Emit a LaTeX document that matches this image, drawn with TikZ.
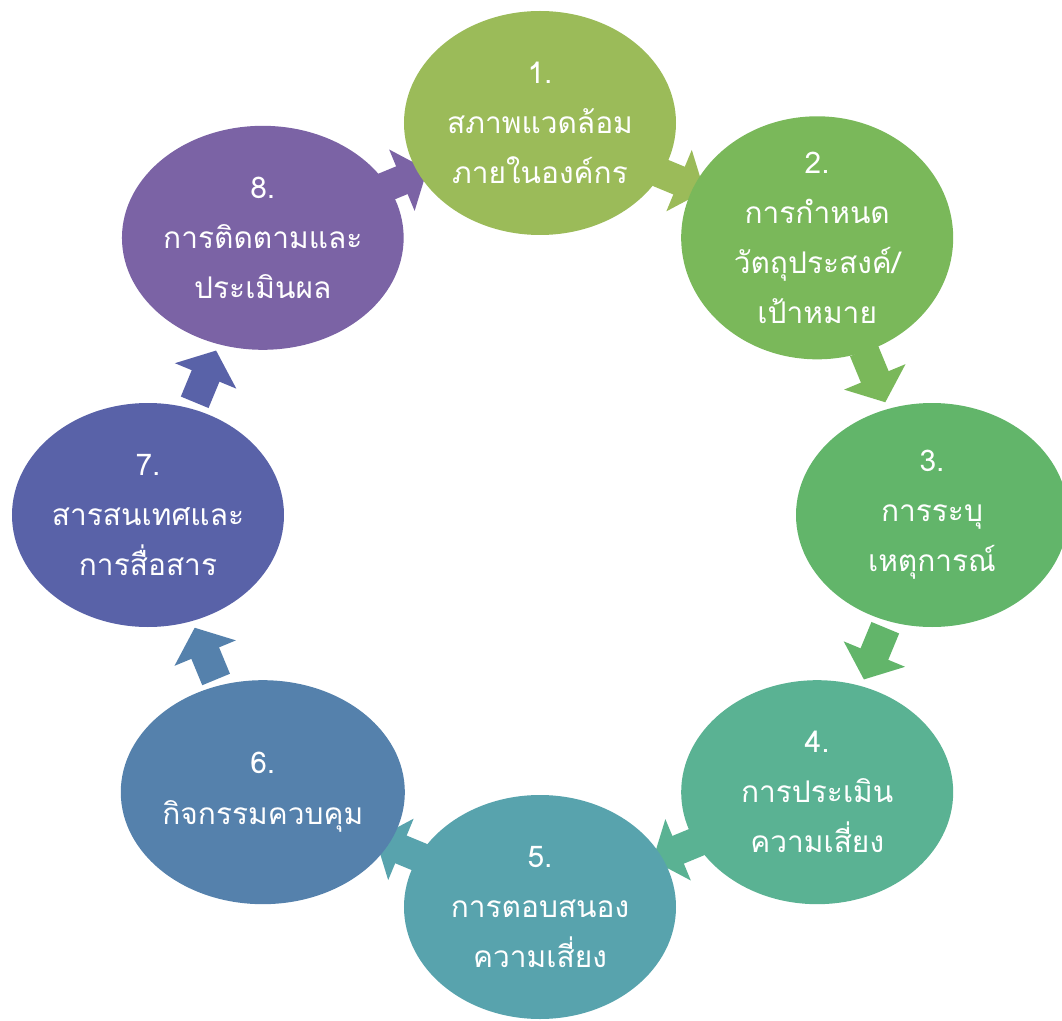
\documentclass[tikz,border=0pt]{standalone}
\usepackage{fontspec}
\setmainfont{Loma}[Script=Thai]
\usepackage{xcolor}
\usepackage{tikz}
\usetikzlibrary{shapes.geometric,arrows.meta,backgrounds}

\definecolor{envcol}{HTML}{9BBB59}
\definecolor{objcol}{HTML}{7AB85A}
\definecolor{eventcol}{HTML}{62B56A}
\definecolor{assesscol}{HTML}{5AB293}
\definecolor{respondcol}{HTML}{58A3AD}
\definecolor{controlcol}{HTML}{5581AC}
\definecolor{infocol}{HTML}{5962A8}
\definecolor{monitorcol}{HTML}{7B63A5}

\begin{document}
\begin{tikzpicture}[
  stage/.style={ellipse, minimum width=5.44cm, minimum height=4.48cm, inner sep=0pt, text=white, align=center, font=\fontsize{17}{28.5}\selectfont},
  flow/.style={line width=0.6cm, -{Triangle[width=1.3cm,length=0.55cm]}, shorten <=2.44cm, shorten >=2.44cm},
]
  \useasboundingbox (-10.8,-10.1) rectangle (10.44,10.3);

  % Stages, clockwise from the top
  \node[stage, fill=envcol] (env) at (90:7.84) {1.\\สภาพแวดล้อม\\ภายในองค์กร};
  \node[stage, fill=objcol] (obj) at (45:7.84) {2.\\การกำหนด\\วัตถุประสงค์/\\เป้าหมาย};
  \node[stage, fill=eventcol] (event) at (0:7.84) {3.\\การระบุ\\เหตุการณ์};
  \node[stage, fill=assesscol] (assess) at (-45:7.84) {4.\\การประเมิน\\ความเสี่ยง};
  \node[stage, fill=respondcol] (respond) at (-90:7.84) {5.\\การตอบสนอง\\ความเสี่ยง};
  \node[stage, fill=controlcol] (control) at (-135:7.84) {6.\\กิจกรรมควบคุม};
  \node[stage, fill=infocol] (info) at (180:7.84) {7.\\สารสนเทศและ\\การสื่อสาร};
  \node[stage, fill=monitorcol] (monitor) at (135:7.84) {8.\\การติดตามและ\\ประเมินผล};

  % Block arrows, kept behind the ellipses
  \begin{scope}[on background layer]
    \draw[flow, envcol] (env.center) -- (obj.center);
    \draw[flow, objcol] (obj.center) -- (event.center);
    \draw[flow, eventcol] (event.center) -- (assess.center);
    \draw[flow, assesscol] (assess.center) -- (respond.center);
    \draw[flow, respondcol] (respond.center) -- (control.center);
    \draw[flow, controlcol] (control.center) -- (info.center);
    \draw[flow, infocol] (info.center) -- (monitor.center);
    \draw[flow, monitorcol] (monitor.center) -- (env.center);
  \end{scope}
\end{tikzpicture}
\end{document}
